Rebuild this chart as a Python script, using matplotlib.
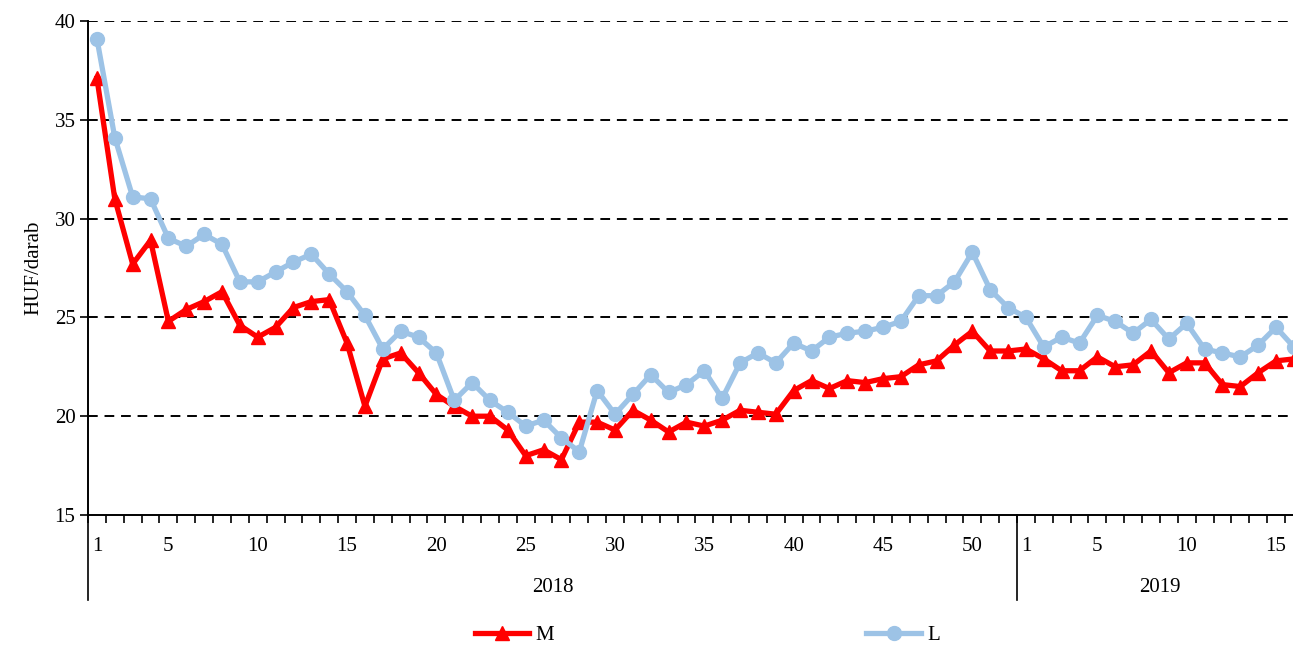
import numpy as np
import matplotlib
matplotlib.use("Agg")
from matplotlib import pyplot as plt

plt.rcParams['font.family'] = ['Liberation Serif', 'DejaVu Serif']

# weekly prices, HUF/darab
weeks_2018 = list(range(1, 53))
weeks_2019 = list(range(1, 17))

m_2018 = [37.1, 31.0, 27.7, 28.9, 24.8, 25.4, 25.8, 26.3, 24.6, 24.0,
          24.5, 25.5, 25.8, 25.9, 23.7, 20.5, 22.9, 23.2, 22.2, 21.1,
          20.5, 20.0, 20.0, 19.3, 18.0, 18.3, 17.8, 19.7, 19.7, 19.3,
          20.3, 19.8, 19.2, 19.7, 19.5, 19.8, 20.3, 20.2, 20.1, 21.3,
          21.8, 21.4, 21.8, 21.7, 21.9, 22.0, 22.6, 22.8, 23.6, 24.3,
          23.3, 23.3]
m_2019 = [23.4, 22.9, 22.3, 22.3, 23.0, 22.5, 22.6, 23.3, 22.2, 22.7,
          22.7, 21.6, 21.5, 22.2, 22.8, 22.9]

l_2018 = [39.1, 34.1, 31.1, 31.0, 29.0, 28.6, 29.2, 28.7, 26.8, 26.8,
          27.3, 27.8, 28.2, 27.2, 26.3, 25.1, 23.4, 24.3, 24.0, 23.2,
          20.8, 21.7, 20.8, 20.2, 19.5, 19.8, 18.9, 18.2, 21.3, 20.1,
          21.1, 22.1, 21.2, 21.6, 22.3, 20.9, 22.7, 23.2, 22.7, 23.7,
          23.3, 24.0, 24.2, 24.3, 24.5, 24.8, 26.1, 26.1, 26.8, 28.3,
          26.4, 25.5]
l_2019 = [25.0, 23.5, 24.0, 23.7, 25.1, 24.8, 24.2, 24.9, 23.9, 24.7,
          23.4, 23.2, 23.0, 23.6, 24.5, 23.5]

shown_2018 = [1, 5, 10, 15, 20, 25, 30, 35, 40, 45, 50]
shown_2019 = [1, 5, 10, 15]

m = m_2018 + m_2019
l = l_2018 + l_2019
x = np.arange(len(m))
n18 = len(weeks_2018)

fig = plt.figure(figsize=(12.93, 6.47), dpi=100)
ax = fig.add_axes([88/1293, 132/647, 1 - 88/1293, 494/647])

ax.plot(x, m, color='#FF0000', lw=3.8, marker='^', ms=10, label='M')
ax.plot(x, l, color='#9DC3E6', lw=3.8, marker='o', ms=10, label='L')

for yy in [20, 25, 30, 35, 40]:
    ax.axhline(yy, color='black', lw=1.4, ls=(0, (5, 3.5)), zorder=0)

# category ticks between weeks
ax.set_xticks(np.arange(-0.5, len(m) + 0.5, 1), minor=True)
pos = [weeks_2018.index(w) for w in shown_2018] + [n18 + weeks_2019.index(w) for w in shown_2019]
labs = [str(w) for w in shown_2018] + [str(w) for w in shown_2019]
ax.set_xticks(pos)
ax.set_xticklabels(labs)
ax.set_yticks([15, 20, 25, 30, 35, 40])
ax.set_ylim(15, 40)
ax.set_xlim(-0.5, 66.95)
ax.tick_params(axis='x', which='major', length=0, pad=16, labelsize=15)
ax.tick_params(axis='x', which='minor', length=6, width=1.2, direction='out')
ax.tick_params(axis='y', length=6, width=1.2, direction='out', labelsize=15, pad=3)

for s in ['top', 'right']:
    ax.spines[s].set_visible(False)
ax.spines['left'].set_linewidth(1.4)
ax.spines['bottom'].set_linewidth(1.4)

# year separators and labels
trans = ax.get_xaxis_transform()
for xs in [-0.5, n18 - 0.5]:
    ax.plot([xs, xs], [0, -0.172], transform=trans, color='black', lw=1.2, clip_on=False)
ax.text((n18 - 1) / 2, -0.146, '2018', transform=trans, ha='center', va='center', fontsize=15)
ax.text(n18 + 7.5, -0.146, '2019', transform=trans, ha='center', va='center', fontsize=15)

ax.set_ylabel('HUF/darab', fontsize=15, labelpad=8)

fig.legend(loc='center', bbox_to_anchor=(0.547, 0.0185), ncol=2, frameon=False,
           fontsize=15, handlelength=2.6, columnspacing=15, handletextpad=0.3)

fig.savefig('out.png', dpi=100)
